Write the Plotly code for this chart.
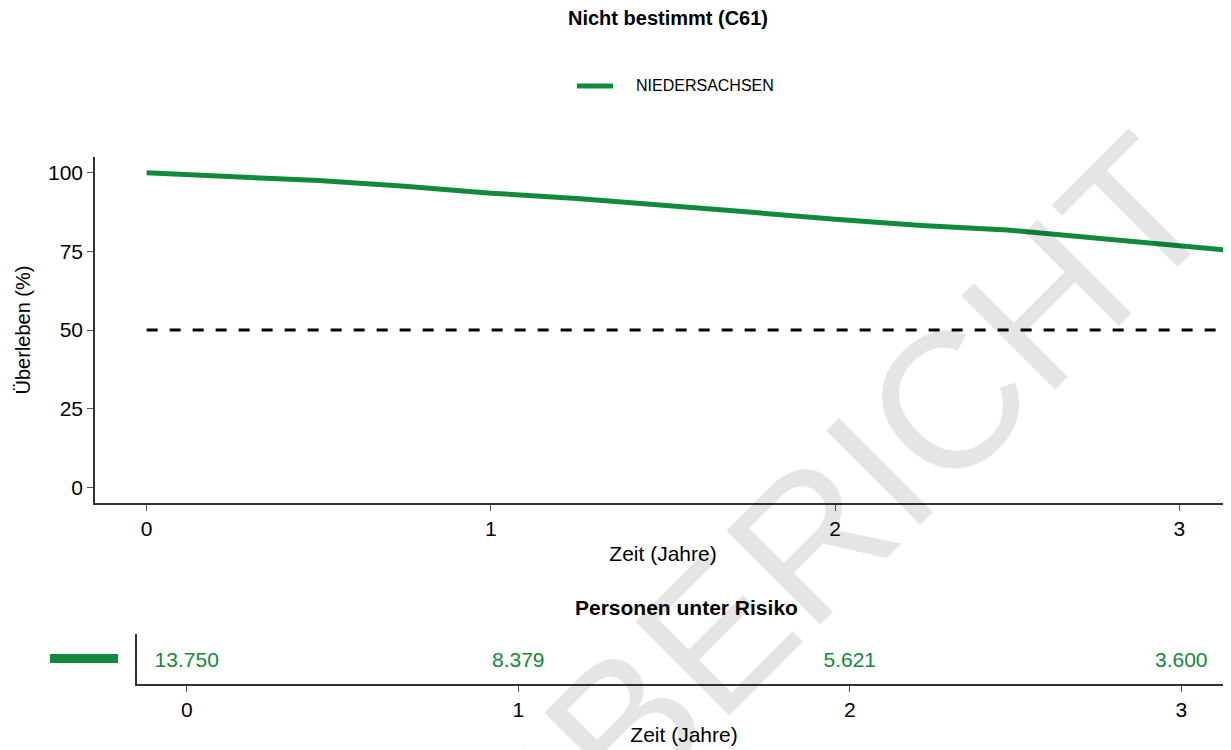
import plotly.graph_objects as go

# Kaplan-Meier Überleben
zeit = [0, 0.25, 0.5, 0.75, 1.0, 1.25, 1.5, 1.75, 2.0, 2.25, 2.5, 2.75, 3.0, 3.15]
ueberleben = [100, 98.9, 97.5, 95.7, 93.5, 91.8, 89.8, 87.5, 85.2, 83.2, 81.8, 79.4, 76.7, 75.3]

# Personen unter Risiko
risiko_zeit = [0, 1, 2, 3]
risiko_n = ["13.750", "8.379", "5.621", "3.600"]

region = "NIEDERSACHSEN"
gruen = "#128a3c"
FONT = "Liberation Sans, Arial, sans-serif"
# die Seite hat 8px Rand, daher etwas kleinere Abbildung
W, H = 1223, 742


def px(x):
    return (x - 8) / W


def py(y):
    return 1 - (y - 8) / H


fig = go.Figure()

fig.add_trace(go.Scatter(x=zeit, y=ueberleben, mode="lines", name=region,
                         line=dict(color=gruen, width=5),
                         xaxis="x", yaxis="y"))
fig.add_trace(go.Scatter(x=[0, 3.15], y=[50, 50], mode="lines", showlegend=False,
                         line=dict(color="black", width=3, dash="11px,12px"),
                         xaxis="x", yaxis="y"))
fig.add_trace(go.Scatter(x=risiko_zeit, y=[0.44] * 4, mode="text", text=risiko_n,
                         textfont=dict(color=gruen, size=21, family=FONT),
                         showlegend=False, xaxis="x2", yaxis="y2"))

achse = dict(showline=True, linecolor="#333", linewidth=1.5, ticks="outside",
             ticklen=6, tickcolor="#555", showgrid=False, zeroline=False,
             tickfont=dict(size=21, color="black", family=FONT))

fig.update_layout(
    width=W, height=H,
    margin=dict(l=0, r=0, t=0, b=0),
    plot_bgcolor="white", paper_bgcolor="white",
    font=dict(family=FONT, color="black"),
    title=dict(text="Nicht bestimmt (C61)", x=px(668), y=py(18),
               xanchor="center", yanchor="middle",
               font=dict(size=20, weight="bold", family=FONT)),
    showlegend=False,
    xaxis=dict(achse, domain=[px(95), 1], range=[-0.15, 3.15],
               tickvals=[0, 1, 2, 3], anchor="y",
               title=dict(text="Zeit (Jahre)", font=dict(size=21), standoff=7)),
    yaxis=dict(achse, domain=[py(503), py(157)], range=[-5, 105],
               tickvals=[0, 25, 50, 75, 100], anchor="x",
               title=dict(text="Überleben (%)", font=dict(size=20), standoff=12)),
    xaxis2=dict(achse, domain=[px(137), 1], range=[-0.15, 3.15],
                tickvals=[0, 1, 2, 3], anchor="y2",
                title=dict(text="Zeit (Jahre)", font=dict(size=21), standoff=7)),
    yaxis2=dict(showline=True, linecolor="#333", linewidth=1.5, showgrid=False,
                zeroline=False, showticklabels=False, ticks="",
                domain=[py(684), py(634)], range=[0, 1], anchor="x2"),
)

# Legende
fig.add_shape(type="line", xref="paper", yref="paper",
              x0=px(577), x1=px(613), y0=py(86), y1=py(86),
              line=dict(color=gruen, width=5))
fig.add_annotation(text=region, xref="paper", yref="paper",
                   x=px(634), y=py(86), xanchor="left", yanchor="middle",
                   showarrow=False, font=dict(size=16, family=FONT))

fig.add_annotation(text="Personen unter Risiko", xref="paper", yref="paper",
                   x=px(686), y=py(607), xanchor="center", yanchor="middle",
                   showarrow=False,
                   font=dict(size=21, weight="bold", family=FONT))

# Linienmarke vor der Risikotabelle
fig.add_shape(type="line", xref="paper", yref="paper",
              x0=px(50), x1=px(118), y0=py(658.5), y1=py(658.5),
              line=dict(color=gruen, width=9))

# Wasserzeichen
fig.add_annotation(text="MUSTERBERICHT", xref="paper", yref="paper",
                   x=px(591), y=py(759), xanchor="center", yanchor="middle",
                   textangle=-45, showarrow=False,
                   font=dict(size=193, color="rgba(0,0,0,0.1)", family=FONT))

fig.write_html("out.html")
